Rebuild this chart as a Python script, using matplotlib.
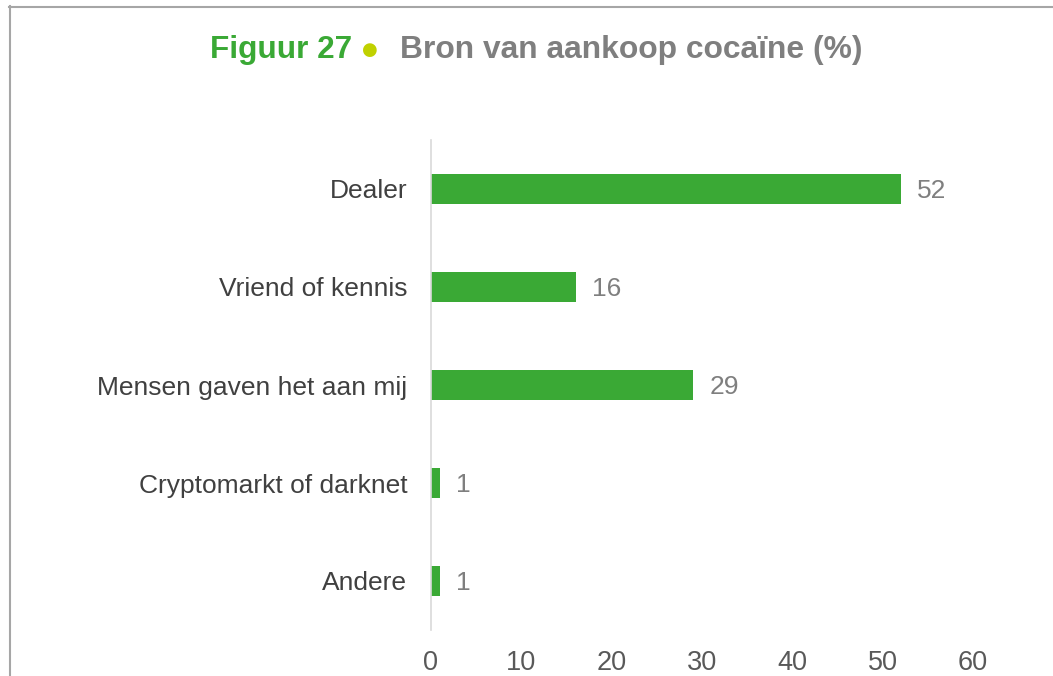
import matplotlib
matplotlib.use("Agg")
import matplotlib.pyplot as plt
from matplotlib.lines import Line2D

categories = ["Dealer", "Vriend of kennis", "Mensen gaven het aan mij",
              "Cryptomarkt of darknet", "Andere"]
values = [52, 16, 29, 1, 1]
xticks = [0, 10, 20, 30, 40, 50, 60]

plt.rcParams['font.family'] = ['Liberation Sans', 'DejaVu Sans']

W, H = 1053, 676
fig = plt.figure(figsize=(W / 100, H / 100), dpi=100)
ax = fig.add_axes([431 / W, 1 - 630 / H, (973 - 431) / W, (630 - 140) / H])

green = "#3aa935"
ypos = list(range(len(categories)))
ax.barh(ypos, values, height=0.31, color=green)
ax.set_ylim(len(categories) - 0.5, -0.5)
ax.set_xlim(0, 60)
ax.set_yticks(ypos)
ax.set_yticklabels(categories, fontsize=19, color="#404040")
ax.set_xticks(xticks)
ax.set_xticklabels([str(t) for t in xticks], fontsize=19.5, color="#595959")
ax.tick_params(axis='both', length=0)
ax.tick_params(axis='y', pad=17)
ax.tick_params(axis='x', pad=14.5)
for s in ["top", "right", "bottom"]:
    ax.spines[s].set_visible(False)
ax.spines["left"].set_color("#d9d9d9")
ax.spines["left"].set_linewidth(1.2)

for y, v in zip(ypos, values):
    ax.text(v + 1.8, y, str(v), va="center_baseline", ha="left", fontsize=19,
            color="#7f7f7f")

# title
fig.text(210 / W, 1 - 50 / H, "Figuur 27", fontsize=22.7, fontweight="bold",
         color=green, va="center", ha="left")
fig.text(370 / W, 1 - 50 / H, "\u25CF", fontsize=13, color="#c0d100",
         va="center", ha="center", family=["DejaVu Sans"])
fig.text(400 / W, 1 - 50 / H, "Bron van aankoop cocaïne (%)", fontsize=22.9,
         fontweight="bold", color="#7f7f7f", va="center", ha="left")

# frame lines
fig.add_artist(Line2D([9 / W, 1], [1 - 6.5 / H, 1 - 6.5 / H], color="#a6a6a6", lw=1.5,
                      transform=fig.transFigure))
fig.add_artist(Line2D([9.5 / W, 9.5 / W], [0, 1 - 6 / H], color="#a6a6a6", lw=1.5,
                      transform=fig.transFigure))

fig.savefig("out.png", dpi=100)
